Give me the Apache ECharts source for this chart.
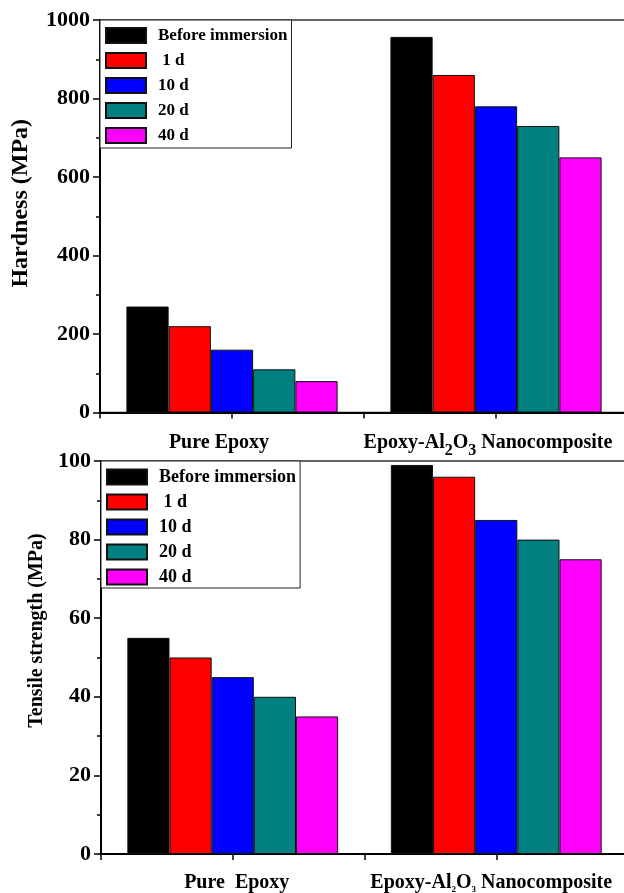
<!DOCTYPE html>
<html>
<head>
<meta charset="utf-8">
<script src="https://cdn.jsdelivr.net/npm/echarts@6/dist/echarts.min.js"></script>
<style>
  html, body { margin: 0; padding: 0; background: #fff; }
  #chart { width: 624px; height: 893px; }
</style>
</head>
<body>
<div id="chart"></div>
<script>
// categories and series names
const categories = ['Pure Epoxy', 'Epoxy-Al2O3 Nanocomposite']
const seriesNames = ['Before immersion', ' 1 d', '10 d', '20 d', '40 d']
const seriesColors = ['#000000', '#ff0000', '#0000ff', '#008080', '#ff00ff']

// hardness (MPa), [pure, nanocomposite]
const hardBefore = [270, 957]
const hard1d = [220, 860]
const hard10d = [160, 780]
const hard20d = [110, 730]
const hard40d = [80, 650]

// tensile strength (MPa), [pure, nanocomposite]
const tensBefore = [55, 99]
const tens1d = [50, 96]
const tens10d = [45, 85]
const tens20d = [40, 80]
const tens40d = [35, 75]

const FONT = '"Liberation Serif", "Times New Roman", serif'

function yAxisOf (grid, max, interval, name, nameSize, nameGap, shift) {
  return {
    gridIndex: grid,
    type: 'value',
    min: 0,
    max: max,
    interval: interval,
    name: name,
    nameLocation: 'middle',
    nameGap: nameGap,
    nameTextStyle: {
      fontFamily: FONT, fontWeight: 'bold', fontSize: nameSize, color: '#000',
      padding: [0, 0, 0, shift]
    },
    axisLine: {show: true, lineStyle: {color: '#000', width: 2}},
    axisTick: {show: true, length: 7, lineStyle: {color: '#000', width: 1.5}},
    minorTick: {show: true, splitNumber: 2, length: 4, lineStyle: {color: '#000', width: 1.5}},
    splitLine: {show: false},
    axisLabel: {
      fontFamily: FONT, fontWeight: 'bold', fontSize: 22, color: '#000', margin: 10,
      formatter: function (v) { return String(v) }
    }
  }
}

function xAxesOf (grid, rich, margin, labels) {
  return [{
    gridIndex: grid,
    type: 'category',
    position: 'bottom',
    data: categories,
    axisLine: {show: true, lineStyle: {color: '#000', width: 2}},
    axisTick: {show: true, length: 6, lineStyle: {color: '#000', width: 1.5}},
    axisLabel: {
      margin: margin,
      interval: 0,
      formatter: function (v, i) { return labels[i] },
      rich: rich
    }
  }, {
    // second axis only for the ticks under the category centres
    gridIndex: grid,
    type: 'category',
    position: 'bottom',
    data: categories,
    axisLine: {show: false},
    axisTick: {show: true, alignWithLabel: true, length: 6, lineStyle: {color: '#000', width: 1.5}},
    axisLabel: {show: false}
  }]
}

const richTop = {
  a: {fontFamily: FONT, fontWeight: 'bold', fontSize: 20, color: '#000', lineHeight: 30},
  s: {fontFamily: FONT, fontWeight: 'bold', fontSize: 16, color: '#000', lineHeight: 14, padding: [16, 0, 0, 0]},
  g26: {width: 26, lineHeight: 30},
  g16: {width: 16, lineHeight: 30}
}
const richBot = {
  a: {fontFamily: FONT, fontWeight: 'bold', fontSize: 20, color: '#000', lineHeight: 30},
  s: {fontFamily: FONT, fontWeight: 'bold', fontSize: 9, color: '#000', lineHeight: 16, padding: [14, 0, 0, 0]},
  g8: {width: 8, lineHeight: 30},
  g10: {width: 10, lineHeight: 30}
}
const labelsTop = ['{a|Pure Epoxy}{g26| }', '{a|Epoxy-Al}{s|2}{a|O}{s|3}{a| Nanocomposite}{g16| }']
const labelsBot = ['{g8| }{a|Pure  Epoxy}', '{a|Epoxy-Al}{s|2}{a|O}{s|3}{a| Nanocomposite}{g10| }']

function barsOf (xIdx, yIdx, sets) {
  return sets.map(function (d, i) {
    return {
      name: seriesNames[i],
      type: 'bar',
      xAxisIndex: xIdx,
      yAxisIndex: yIdx,
      data: d,
      barGap: '0%',
      barCategoryGap: '20%',
      itemStyle: {color: seriesColors[i], borderColor: '#111', borderWidth: 1}
    }
  })
}

function legendOf (left, top, size, gap, pad) {
  return {
    orient: 'vertical',
    left: left,
    top: top,
    data: seriesNames,
    icon: 'rect',
    itemWidth: 40,
    itemHeight: 15,
    itemGap: gap,
    padding: pad,
    backgroundColor: '#fff',
    borderColor: '#222',
    borderWidth: 1,
    borderRadius: 0,
    selectedMode: false,
    textStyle: {
      fontFamily: FONT, fontWeight: 'bold', fontSize: size, color: '#000',
      lineHeight: 15, padding: [0, 0, 0, 7]
    }
  }
}

const chart = echarts.init(document.getElementById('chart'))
chart.setOption({
  animation: false,
  backgroundColor: '#fff',
  grid: [
    {left: 100, right: -4, top: 20, height: 392.5, outerBoundsMode: 'none', show: true, borderColor: '#333', borderWidth: 1.5},
    {left: 101, right: -4, top: 461, height: 393, outerBoundsMode: 'none', show: true, borderColor: '#333', borderWidth: 1.5}
  ],
  legend: [legendOf(100, 20, 17, 8, [7, 4, 4, 5]), legendOf(101, 461, 18, 7, [7, 4, 2, 5])],
  xAxis: xAxesOf(0, richTop, 15, labelsTop).concat(xAxesOf(1, richBot, 14, labelsBot)),
  yAxis: [
    yAxisOf(0, 1000, 200, 'Hardness (MPa)', 24, 67, 26),
    yAxisOf(1, 100, 20, 'Tensile strength (MPa)', 20, 46, 54)
  ],
  series: barsOf(0, 0, [hardBefore, hard1d, hard10d, hard20d, hard40d])
    .concat(barsOf(2, 1, [tensBefore, tens1d, tens10d, tens20d, tens40d]))
})
</script>
</body>
</html>
